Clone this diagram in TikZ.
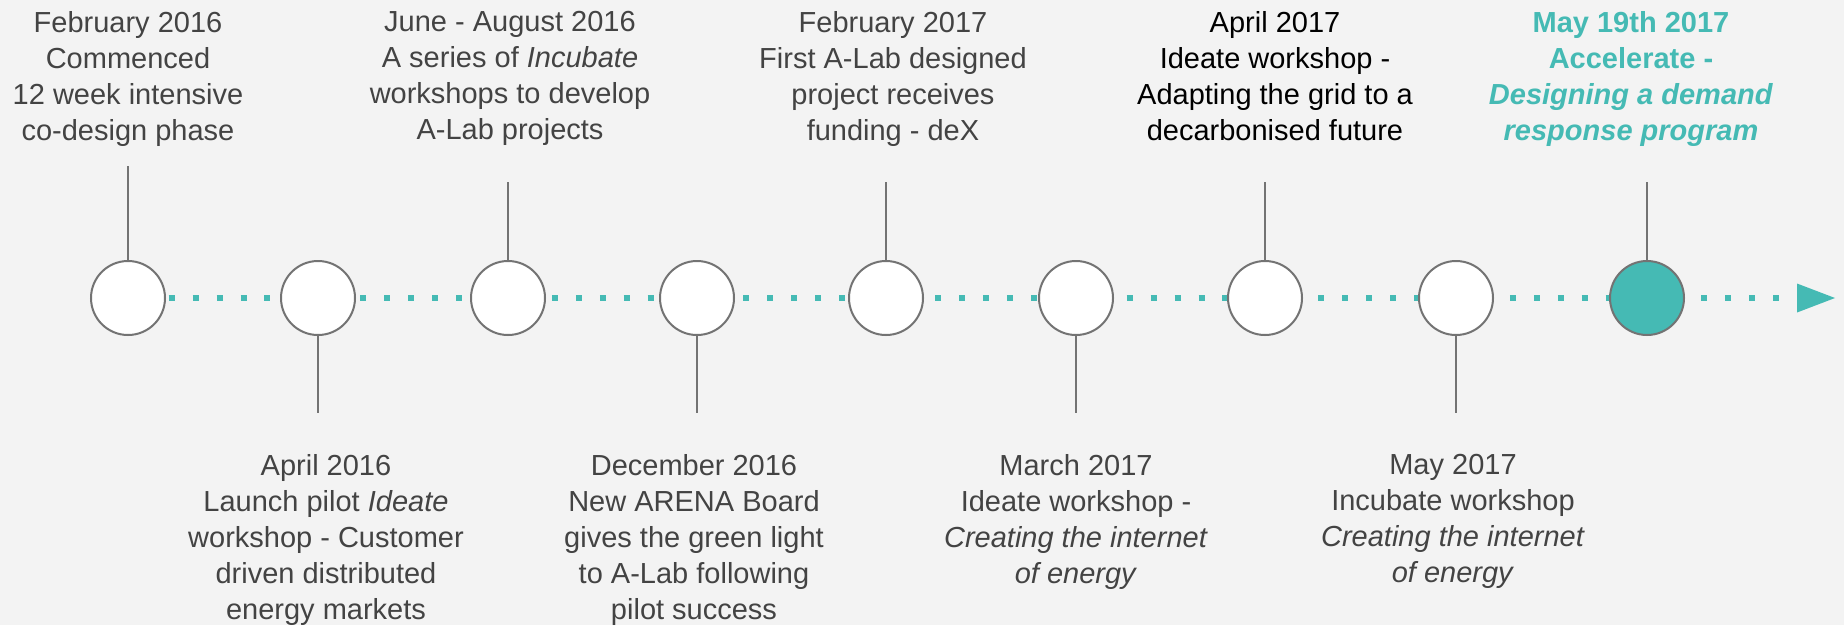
\documentclass[tikz,border=0pt]{standalone}
\usepackage{fontspec}
\setmainfont{Liberation Sans}
\usetikzlibrary{arrows.meta}
\definecolor{bggray}{HTML}{F3F3F3}
\definecolor{linegray}{HTML}{737373}
\definecolor{textgray}{HTML}{434343}
\definecolor{arenateal}{HTML}{45BAB4}
\tikzset{
  event/.style={circle, draw=linegray, line width=2pt, fill=white, minimum size=74pt, inner sep=0pt},
  stem/.style={linegray, line width=2pt},
  note/.style={anchor=north, inner sep=0pt, align=center, text=textgray, font=\fontsize{29}{36}\selectfont},
  track/.style={arenateal, line width=6pt, dash pattern=on 6pt off 17.95pt, dash phase=7.25pt,
    -{Triangle[length=38pt, width=29pt, line width=0pt]}}
}
\begin{document}
\begin{tikzpicture}[x=1pt, y=-1pt]
\fill[bggray] (0,0) rectangle (1844,625);
\useasboundingbox (0,0) rectangle (1844,625);
\coordinate (c1) at (128,298);
\coordinate (tip) at (1835,298);
\draw[track] (c1) -- (tip);
\node[event] (e1) at (c1) {};
\node[event] (e2) at (318,298) {};
\node[event] (e3) at (508,298) {};
\node[event] (e4) at (697,298) {};
\node[event] (e5) at (886,298) {};
\node[event] (e6) at (1076,298) {};
\node[event] (e7) at (1265,298) {};
\node[event] (e8) at (1456,298) {};
\node[event, fill=arenateal] (e9) at (1647,298) {};
\coordinate (s1) at (128,166);
\coordinate (s2) at (318,413);
\coordinate (s3) at (508,182);
\coordinate (s4) at (697,413);
\coordinate (s5) at (886,182);
\coordinate (s6) at (1076,413);
\coordinate (s7) at (1265,182);
\coordinate (s8) at (1456,413);
\coordinate (s9) at (1647,182);
\foreach \i in {1,3,5,7,9} \draw[stem] (e\i.north) -- (s\i);
\foreach \i in {2,4,6,8} \draw[stem] (e\i.south) -- (s\i);
\node[note] (t1) at (128,11) {February 2016\\Commenced\\12 week intensive\\co-design phase};
\node[note] (t3) at (510,11) {June - August 2016\\A series of \textit{Incubate}\\workshops to develop\\A-Lab projects};
\node[note] (t5) at (893,11) {February 2017\\First A-Lab designed\\project receives\\funding - deX};
\node[note, text=black] (t7) at (1275,11) {April 2017\\Ideate workshop -\\Adapting the grid to a\\decarbonised future};
\node[note, text=arenateal, font={\fontsize{29}{36}\selectfont\bfseries}] (t9) at (1631,11)
  {May 19th 2017\\Accelerate -\\\textit{Designing a demand}\\\textit{response program}};
\node[note] (b2) at (326,454) {April 2016\\Launch pilot \textit{Ideate}\\workshop - Customer\\driven distributed\\energy markets};
\node[note] (b4) at (694,454) {December 2016\\New ARENA Board\\gives the green light\\to A-Lab following\\pilot success};
\node[note] (b6) at (1076,454) {March 2017\\Ideate workshop -\\\textit{Creating the internet}\\\textit{of energy}};
\node[note] (b8) at (1453,454) {May 2017\\Incubate workshop\\\textit{Creating the internet}\\\textit{of energy}};
\end{tikzpicture}
\end{document}
